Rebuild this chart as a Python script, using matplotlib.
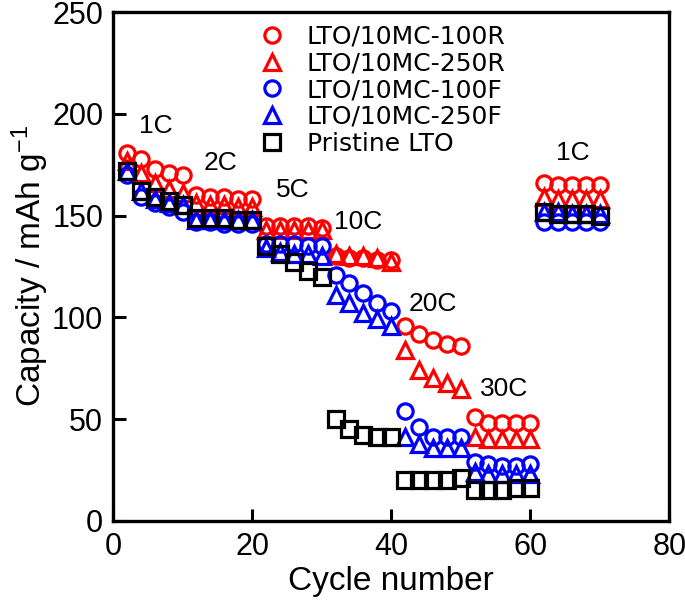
import matplotlib
matplotlib.use("Agg")
import matplotlib.pyplot as plt

# ----- data -----
cycles = list(range(2, 71, 2))

rate_labels = ["1C", "2C", "5C", "10C", "20C", "30C", "1C"]
rate_label_x = [6.2, 15.4, 25.9, 35.3, 46.0, 56.2, 66.2]
rate_label_y = [193.8, 176, 162.6, 147, 106.8, 64.8, 181]

cap_100R = [181, 178, 173, 171, 170,
            160, 159, 159, 158, 158,
            145, 145, 145, 145, 144,
            130, 129, 129, 128, 128,
            96, 92, 89, 87, 86,
            51, 48, 48, 48, 48,
            166, 165, 165, 165, 165]
cap_250R = [177, 171, 166, 163, 161,
            156, 155, 155, 154, 154,
            143, 143, 143, 143, 143,
            131, 130, 130, 129, 127,
            84, 74, 70, 68, 65,
            41, 40, 40, 40, 40,
            159, 158, 158, 158, 158]
cap_100F = [170, 159, 156, 154, 152,
            147, 147, 146, 146, 146,
            136, 136, 136, 135, 135,
            121, 117, 112, 107, 103,
            54, 46, 41, 41, 41,
            29, 28, 27, 27, 28,
            147, 147, 147, 147, 147]
cap_250F = [172, 162, 158, 156, 155,
            148, 148, 148, 148, 148,
            134, 132, 131, 131, 130,
            111, 107, 102, 99, 96,
            41, 38, 36, 36, 36,
            24, 23, 23, 23, 23,
            152, 152, 151, 151, 151]
cap_pristine = [172, 162, 159, 157, 155,
                149, 149, 149, 148, 148,
                135, 131, 127, 123, 120,
                50, 45, 42, 41, 41,
                20, 20, 20, 20, 21,
                15, 15, 15, 16, 16,
                152, 151, 151, 151, 150]

series_labels = ["LTO/10MC-100R", "LTO/10MC-250R", "LTO/10MC-100F",
                 "LTO/10MC-250F", "Pristine LTO"]

# ----- style -----
plt.rcParams["font.family"] = ["Liberation Sans", "DejaVu Sans"]
plt.rcParams["mathtext.fontset"] = "custom"
plt.rcParams["mathtext.rm"] = "Liberation Sans"
plt.rcParams["mathtext.it"] = "Liberation Sans"

fig = plt.figure(figsize=(6.85, 6.05), dpi=100)
ax = fig.add_axes([0.165, 0.139, 0.812, 0.841])

ms = 11
mew = 2.3
series = [
    (cap_100R, "o", "red"),
    (cap_250R, "^", "red"),
    (cap_100F, "o", "blue"),
    (cap_250F, "^", "blue"),
    (cap_pristine, "s", "black"),
]
for (vals, mk, col), lab in zip(series, series_labels):
    ax.plot(cycles, vals, linestyle="none", marker=mk, markersize=ms if mk != "^" else ms + 1,
            markerfacecolor="none", markeredgecolor=col, markeredgewidth=mew, label=lab)

for lab, lx, ly in zip(rate_labels, rate_label_x, rate_label_y):
    ax.text(lx, ly, lab, fontsize=19, ha="center", va="center")

ax.set_xlim(0, 80)
ax.set_ylim(0, 250)
ax.set_xticks([0, 20, 40, 60, 80])
ax.set_yticks([0, 50, 100, 150, 200, 250])
ax.tick_params(direction="in", length=9, width=2.2, labelsize=22, pad=8)
ax.tick_params(axis="y", pad=7)
for sp in ax.spines.values():
    sp.set_linewidth(2.4)

ax.set_xlabel("Cycle number", fontsize=24, labelpad=3)
ax.set_ylabel("Capacity / mAh g$^{-1}$", fontsize=24, labelpad=1)

leg = ax.legend(loc="upper left", bbox_to_anchor=(0.24, 0.995), frameon=False,
                prop={"family": "DejaVu Sans", "size": 18}, labelspacing=0.11,
                handletextpad=0.8, handlelength=1.2, borderaxespad=0)

fig.savefig("out.png", dpi=100)
